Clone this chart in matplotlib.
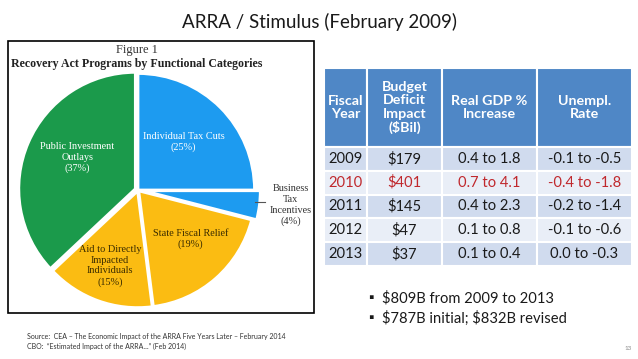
import matplotlib.pyplot as plt
from matplotlib.patches import Rectangle

# pie data (Figure 1 image)
categories = ["Individual Tax Cuts", "Business\nTax\nIncentives", "State Fiscal Relief",
              "Aid to Directly\nImpacted\nIndividuals", "Public Investment\nOutlays"]
shares = [25, 4, 19, 15, 37]
colors = ["#1d9bf0", "#1d9bf0", "#fbbc12", "#fbbc12", "#1b9a4b"]

# table data
col_labels = ["Fiscal\nYear", "Budget\nDeficit\nImpact\n($Bil)", "Real GDP %\nIncrease", "Unempl.\nRate"]
years = ["2009", "2010", "2011", "2012", "2013"]
deficit = ["$179", "$401", "$145", "$47", "$37"]
gdp = ["0.4 to 1.8", "0.7 to 4.1", "0.4 to 2.3", "0.1 to 0.8", "0.1 to 0.4"]
unempl = ["-0.1 to -0.5", "-0.4 to -1.8", "-0.2 to -1.4", "-0.1 to -0.6", "0.0 to -0.3"]
highlight_year = "2010"

bullets = ["$809B from 2009 to 2013", "$787B initial; $832B revised"]
source_lines = ["Source:  CEA \u2013 The Economic Impact of the ARRA Five Years Later \u2013 February 2014",
                "CBO:  \u201cEstimated Impact of the ARRA\u2026\u201d (Feb 2014)"]

W, H = 638, 359
plt.rcParams['font.family'] = ['Lato', 'DejaVu Sans']
fig = plt.figure(figsize=(W / 100, H / 100), dpi=100)


def px(x, y):
    return x / W, 1 - y / H


fig.text(*px(319, 22), "ARRA / Stimulus (February 2009)", ha="center", va="center",
         fontsize=13.5, color="#1a1a1a")

# image frame
fig.patches.append(Rectangle(px(8, 313), (314 - 8) / W, (313 - 41) / H,
                             transform=fig.transFigure, fill=False, edgecolor="black", lw=1.2))

serif = ["Liberation Serif", "DejaVu Serif"]
fig.text(*px(137, 50), "Figure 1", ha="center", va="center", fontsize=9, family=serif, color="#333333")
fig.text(*px(137, 64), "Recovery Act Programs by Functional Categories", ha="center", va="center",
         fontsize=8.6, family=serif, fontweight="bold", color="#222222")

# pie
cx, cy, size = 138, 190, 240
ax = fig.add_axes([(cx - size / 2) / W, 1 - (cy + size / 2) / H, size / W, size / H])
explode = [0, 0.05, 0.01, 0.01, 0.025]
wedges, _ = ax.pie(shares, colors=colors, startangle=90, counterclock=False, explode=explode,
                   wedgeprops=dict(edgecolor="white", linewidth=2))
ax.set_xlim(-1.03, 1.03)
ax.set_ylim(-1.03, 1.03)
ax.set_aspect("equal")
ax.axis("off")

label_pos = [(0.39, 0.41), (1.31, -0.13), (0.45, -0.42), (-0.24, -0.65), (-0.52, 0.28)]
label_col = ["white", "#333333", "#3a2c00", "#3a2c00", "white"]
for cat, val, (lx, ly), c in zip(categories, shares, label_pos, label_col):
    ax.text(lx, ly, f"{cat}\n({val}%)", ha="center", va="center", fontsize=7.4, family=serif,
            color=c, linespacing=1.25, clip_on=False)
ax.plot([1.0, 1.09], [-0.1, -0.1], color="#555555", lw=0.8, clip_on=False)

# table
tx0, tx1, ty0, ty1 = 324, 632, 68, 266
tax = fig.add_axes([tx0 / W, 1 - ty1 / H, (tx1 - tx0) / W, (ty1 - ty0) / H])
tax.axis("off")
rows = [list(r) for r in zip(years, deficit, gdp, unempl)]
widths = [43, 75, 95, 95]
tot = sum(widths)
tbl = tax.table(cellText=rows, colLabels=col_labels, colWidths=[w / tot for w in widths],
                bbox=[0, 0, 1, 1], cellLoc="center")
tbl.auto_set_font_size(False)
head_h, row_h = 79, (ty1 - ty0 - 79) / len(years)
for (r, c), cell in tbl.get_celld().items():
    cell.set_edgecolor("white")
    cell.set_linewidth(1.5)
    t = cell.get_text()
    t.set_parse_math(False)
    if r == 0:
        cell.set_height(head_h)
        cell.set_facecolor("#4f87c6")
        t.set_color("white")
        t.set_fontweight("bold")
        t.set_fontsize(10.3)
        t.set_linespacing(1.15)
    else:
        cell.set_height(row_h)
        cell.set_facecolor("#d0dbee" if r % 2 == 1 else "#e9eef7")
        t.set_fontsize(10.6)
        red = years[r - 1] == highlight_year
        t.set_color("#c0282d" if red else "#1a1a1a")

for i, b in enumerate(bullets):
    y = 298 + 20 * i
    fig.text(*px(371, y), "\u25aa", ha="center", va="center", fontsize=10, color="#1a1a1a")
    fig.text(*px(382, y), b, ha="left", va="center", fontsize=10.6, color="#1a1a1a", parse_math=False)

for i, s in enumerate(source_lines):
    fig.text(*px(27, 336 + 10.5 * i), s, ha="left", va="center", fontsize=5, color="#333333")

fig.text(*px(628, 349), "13", ha="center", va="center", fontsize=4.5, color="#888888")

fig.savefig("out.png", dpi=100)
